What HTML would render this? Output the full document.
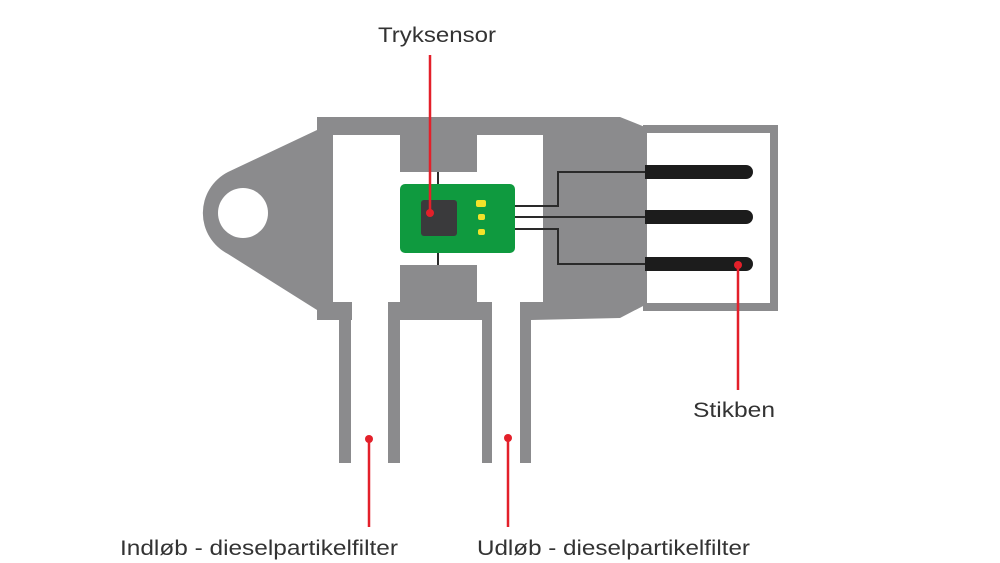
<!DOCTYPE html>
<html><head><meta charset="utf-8"><style>body{margin:0;background:#fff}svg{display:block}</style></head>
<body>
<svg width="1000" height="563" viewBox="0 0 1000 563" xmlns="http://www.w3.org/2000/svg" font-family="Liberation Sans, sans-serif">
<g fill="#8b8b8d">
  <path d="M317 130 L228 172 A46 46 0 0 0 228 254 L317 310 Z"/>
  <path d="M317 117 L620 117 L645 127 L645 305 L620 318 L531 320 L531 463 L520 463 L520 320 L492 320 L492 463 L482 463 L482 320 L400 320 L400 463 L388 463 L388 320 L351 320 L351 463 L339 463 L339 320 L317 320 Z"/>
  <rect x="643" y="125" width="135" height="186"/>
</g>
<circle cx="243" cy="213" r="25" fill="#fff"/>
<g fill="#fff">
  <rect x="333" y="135" width="67" height="167"/>
  <rect x="477" y="135" width="66" height="167"/>
  <rect x="400" y="172" width="77" height="93"/>
  <rect x="352" y="302" width="36" height="161"/>
  <rect x="492" y="302" width="28" height="161"/>
  <rect x="400" y="320" width="82" height="143"/>
  <rect x="647" y="133" width="123" height="170"/>
</g>
<g stroke="#2a2a2a" stroke-width="2" fill="none">
  <line x1="438" y1="172" x2="438" y2="184"/>
  <line x1="438" y1="253" x2="438" y2="265"/>
  <polyline points="515,206 558,206 558,172 650,172"/>
  <polyline points="515,217 650,217"/>
  <polyline points="515,229 558,229 558,264 650,264"/>
</g>
<rect x="400" y="184" width="115" height="69" rx="5" fill="#0f9a3f"/>
<rect x="421" y="200" width="36" height="36" rx="3" fill="#3a3a3c"/>
<rect x="476" y="200" width="10" height="7" rx="2" fill="#f2e22a"/>
<rect x="478" y="214" width="7" height="6" rx="2" fill="#f2e22a"/>
<rect x="478" y="229" width="7" height="6" rx="2" fill="#f2e22a"/>
<g fill="#1c1c1c">
  <path d="M645 165 H746 A7 7 0 0 1 746 179 H645 Z"/>
  <path d="M645 210 H746 A7 7 0 0 1 746 224 H645 Z"/>
  <path d="M645 257 H746 A7 7 0 0 1 746 271 H645 Z"/>
</g>
<g stroke="#e3202a" stroke-width="2.5" fill="#e3202a">
  <line x1="430" y1="55" x2="430" y2="212"/>
  <circle cx="430" cy="213" r="4" stroke="none"/>
  <line x1="738" y1="265" x2="738" y2="390"/>
  <circle cx="738" cy="265" r="4" stroke="none"/>
  <line x1="369" y1="439" x2="369" y2="527"/>
  <circle cx="369" cy="439" r="4" stroke="none"/>
  <line x1="508" y1="438" x2="508" y2="527"/>
  <circle cx="508" cy="438" r="4" stroke="none"/>
</g>
<g fill="#333" font-size="21">
  <text x="378" y="42" textLength="118" lengthAdjust="spacingAndGlyphs">Tryksensor</text>
  <text x="693" y="417" textLength="82" lengthAdjust="spacingAndGlyphs">Stikben</text>
  <text x="120" y="555" textLength="278" lengthAdjust="spacingAndGlyphs">Indløb - dieselpartikelfilter</text>
  <text x="477" y="555" textLength="273" lengthAdjust="spacingAndGlyphs">Udløb - dieselpartikelfilter</text>
</g>
</svg>
</body></html>
